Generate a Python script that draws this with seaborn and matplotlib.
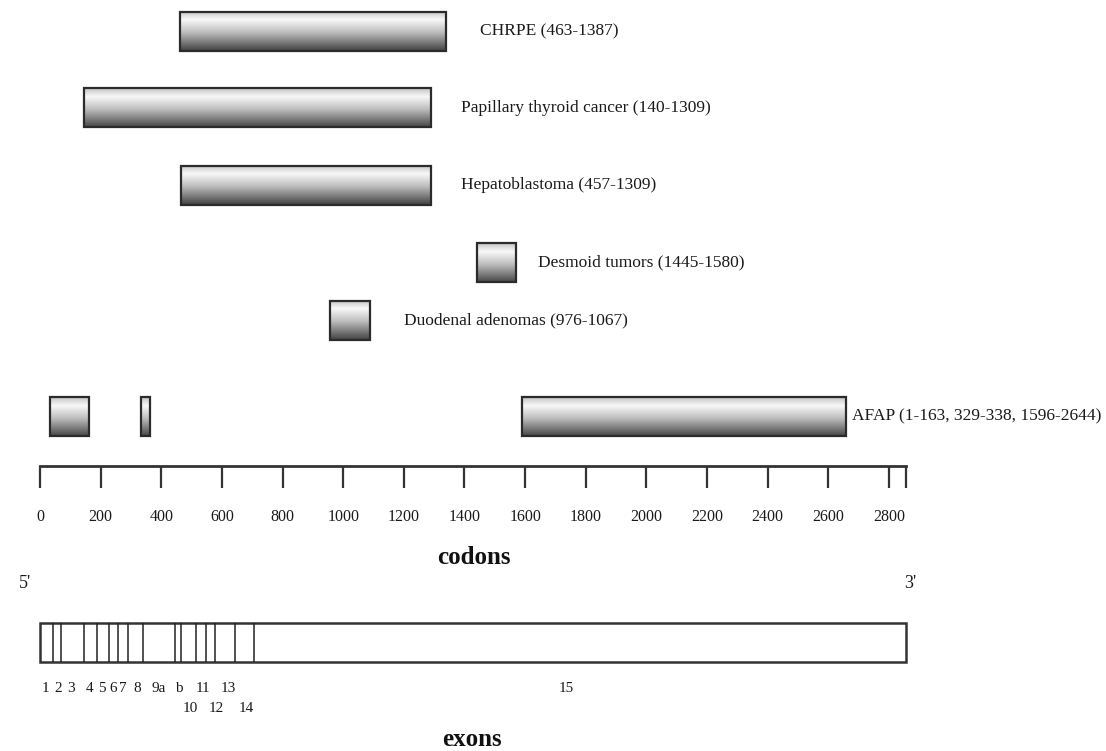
import numpy as np
import seaborn as sns
import matplotlib.pyplot as plt
from matplotlib.colors import LinearSegmentedColormap

# Regions on the APC gene (codons), as drawn in the picture
regions = ['CHRPE', 'Papillary thyroid cancer', 'Hepatoblastoma',
           'Desmoid tumors', 'Duodenal adenomas', 'AFAP']
region_labels = ['CHRPE (463-1387)', 'Papillary thyroid cancer (140-1309)',
                 'Hepatoblastoma (457-1309)', 'Desmoid tumors (1445-1580)',
                 'Duodenal adenomas (976-1067)', 'AFAP (1-163, 329-338, 1596-2644)']
bar_start = [[463], [145], [465], [1441], [956], [33, 333, 1590]]
bar_end = [[1339], [1290], [1290], [1570], [1088], [162, 363, 2658]]

# codon ruler
gene_length = 2856
codon_ticks = list(range(0, 2801, 200))

# exon boundaries (codons) and exon label positions
exon_bounds = [42, 69, 146, 187, 229, 258, 289, 339, 445, 464, 515, 547, 577, 643, 706]
exon_names_top = ['1', '2', '3', '4', '5', '6', '7', '8', '9a', 'b', '11', '13', '15']
exon_pos_top = [19, 60, 101, 163, 203, 242, 273, 319, 390, 459, 537, 621, 1735]
exon_names_bot = ['10', '12', '14']
exon_pos_bot = [495, 583, 682]

# layout (y in pixel-like units, top = 0)
row_y = [31, 107.5, 185, 262.5, 320, 416.5]
row_h = 39
label_x = [1451, 1388, 1388, 1642, 1200, 2678]
ruler_y = 466
exon_top, exon_bot = 623, 662

sns.set_theme(style='white')
plt.rcParams['font.family'] = ['Liberation Serif', 'DejaVu Serif']

fig = plt.figure(figsize=(11.06, 7.51), dpi=100)
ax = fig.add_axes([0, 0, 1, 1])
px = 0.3032
ax.set_xlim(-40 / px, (1106 - 40) / px)
ax.set_ylim(751, 0)

grad = LinearSegmentedColormap.from_list(
    'bar', [(0, '#c4c4c4'), (0.22, '#f8f8f8'), (0.55, '#bcbcbc'), (1, '#474747')])
g = np.linspace(0, 1, 256).reshape(-1, 1)

for starts, ends, y in zip(bar_start, bar_end, row_y):
    widths = [e - s for s, e in zip(starts, ends)]
    bars = ax.barh([y] * len(starts), widths, left=starts, height=row_h,
                   color='none', edgecolor='#2b2b2b', linewidth=1.6, zorder=3)
    for b in bars:
        x0, y0 = b.get_x(), b.get_y()
        im = ax.imshow(g, cmap=grad, aspect='auto', zorder=2,
                       extent=[x0, x0 + b.get_width(), y0 + b.get_height(), y0])
        im.set_clip_path(b)

for lab, x, y in zip(region_labels, label_x, row_y):
    ax.text(x, y, lab, ha='left', va='center', fontsize=12.5, color='#1a1a1a')

# ruler on the bottom spine
for s in ['top', 'left', 'right']:
    ax.spines[s].set_visible(False)
ax.spines['bottom'].set_position(('data', ruler_y))
ax.spines['bottom'].set_bounds(0, gene_length)
ax.spines['bottom'].set_linewidth(2)
ax.spines['bottom'].set_color('#333333')
ax.set_xticks(codon_ticks + [gene_length])
ax.set_xticklabels([str(t) for t in codon_ticks] + [''])
ax.tick_params(axis='x', direction='out', length=16, width=1.6, color='#333333',
               pad=15, labelsize=11.5, labelcolor='#1a1a1a', bottom=True)
ax.set_yticks([])
ax.grid(False)

ax.text(1430, 557, 'codons', ha='center', va='center', fontsize=18,
        fontweight='bold', color='#111111')
ax.text(-50, 583, "5'", ha='center', va='center', fontsize=13, color='#1a1a1a')
ax.text(2870, 583, "3'", ha='center', va='center', fontsize=13, color='#1a1a1a')

# exon box
ax.add_patch(plt.Rectangle((0, exon_top), gene_length, exon_bot - exon_top,
                           facecolor='white', edgecolor='#333333', linewidth=1.8, zorder=3))
ax.vlines(exon_bounds, exon_top, exon_bot, color='#222222', linewidth=1.1, zorder=4)
for name, x in zip(exon_names_top, exon_pos_top):
    ax.text(x, 688, name, ha='center', va='center', fontsize=11, color='#1a1a1a')
for name, x in zip(exon_names_bot, exon_pos_bot):
    ax.text(x, 709, name, ha='center', va='center', fontsize=11, color='#1a1a1a')
ax.text(1425, 739, 'exons', ha='center', va='center', fontsize=18,
        fontweight='bold', color='#111111')

fig.savefig('out.png', dpi=100)
